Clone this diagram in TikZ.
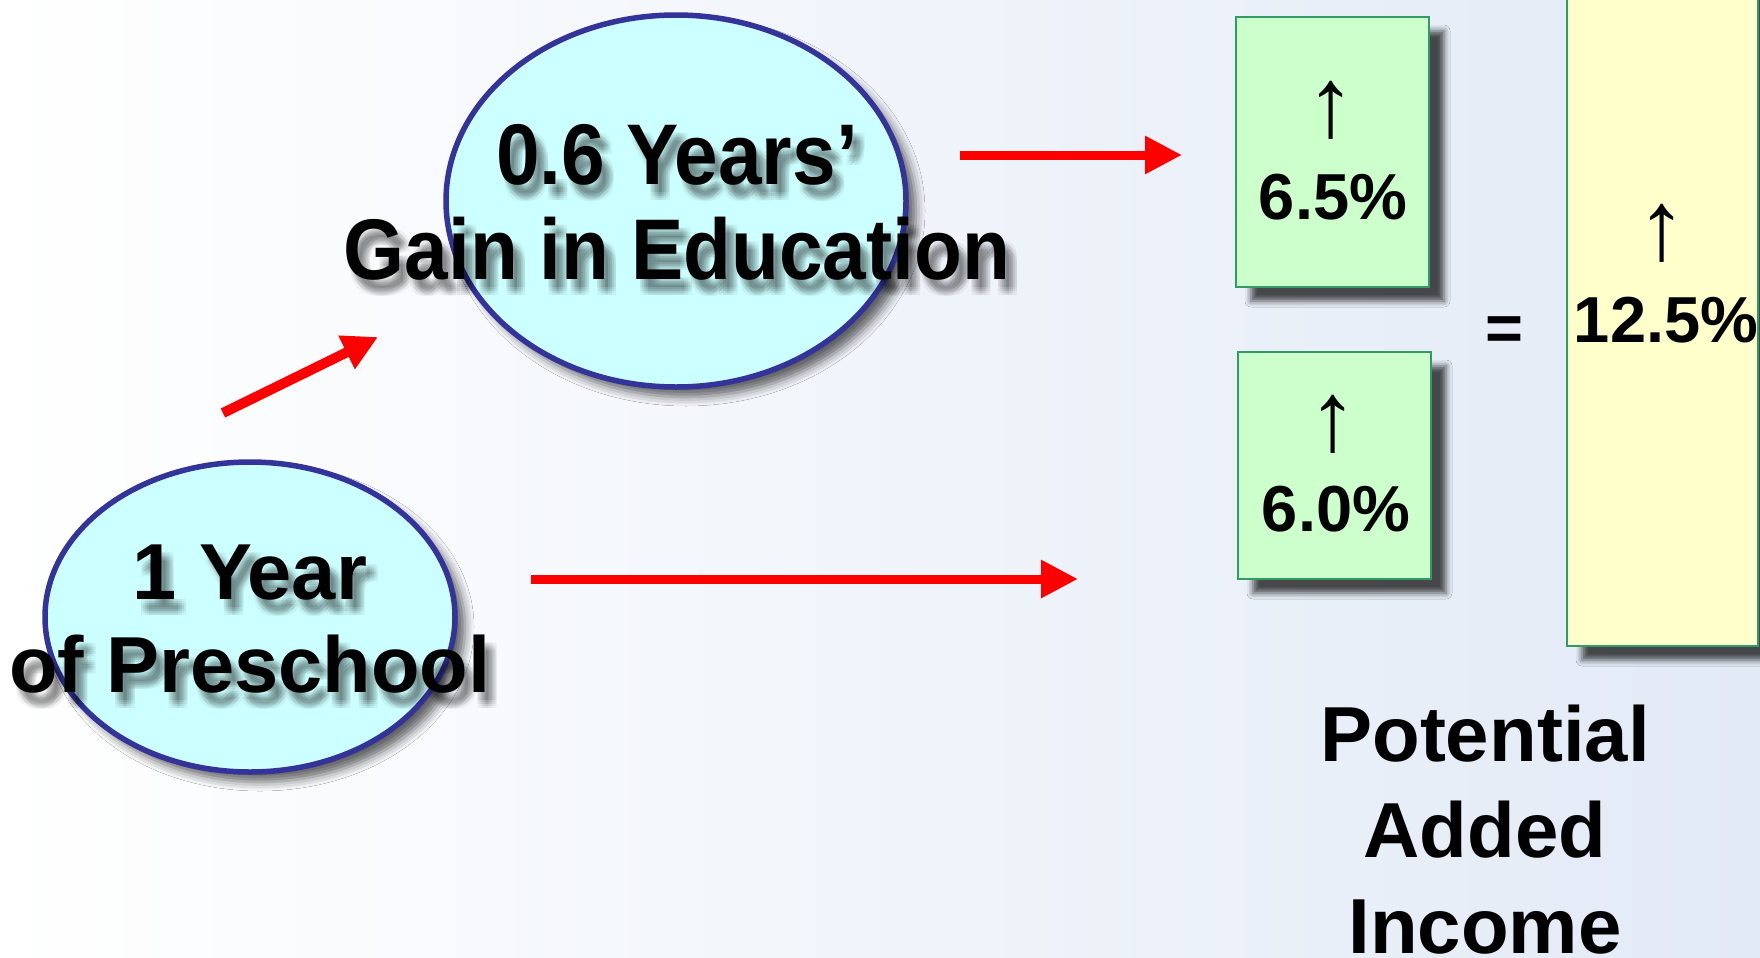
\documentclass[tikz,border=0pt]{standalone}
\usepackage{fontspec}
\setmainfont{Liberation Sans}
\newfontfamily\condfont{Liberation Sans}[FakeStretch=0.91]
\newfontfamily\arrfont{Liberation Sans}
\usetikzlibrary{arrows.meta,shadows.blur,shapes.geometric}
\definecolor{bgblue}{RGB}{226,234,246}
\definecolor{ellfill}{RGB}{204,255,255}
\definecolor{elldraw}{RGB}{51,51,153}
\definecolor{grfill}{RGB}{204,255,204}
\definecolor{grdraw}{RGB}{51,153,102}
\definecolor{yefill}{RGB}{255,255,204}
\definecolor{arred}{RGB}{255,0,0}
\newcommand\txtshadow[3]{%
  \foreach \dx/\dy in {4/8,8/8,12/8,4/12,8/12,12/12,4/16,8/16,12/16,6/10,10/10,6/14,10/14}
    {\node[#1, text=black, opacity=0.045] at ([shift={(\dx,\dy)}]#2) {#3};}
}
\begin{document}
\begin{tikzpicture}[x=0.1mm,y=-0.1mm,
  ellnode/.style={ellipse, draw=elldraw, line width=0.55mm, fill=ellfill, inner sep=0pt,
    blur shadow={shadow xshift=1.0mm, shadow yshift=-1.0mm, shadow blur radius=0.9mm, shadow opacity=60}},
  boxnode/.style={rectangle, draw=grdraw, line width=0.22mm, inner sep=0pt,
    blur shadow={shadow xshift=1.5mm, shadow yshift=-1.4mm, shadow blur radius=0.6mm, shadow opacity=70}},
  bigtxt/.style={inner sep=0pt, align=center, font=\condfont\bfseries\fontsize{24.5}{27.1}\selectfont},
  smalltxt/.style={inner sep=0pt, align=center, font=\bfseries\fontsize{22.6}{26.5}\selectfont},
  pcttxt/.style={inner sep=0pt, anchor=base, font=\bfseries\fontsize{18.5}{22}\selectfont},
  uptxt/.style={inner sep=0pt, font=\arrfont\fontsize{28}{32}\selectfont},
  labtxt/.style={inner sep=0pt, anchor=base, font=\bfseries\fontsize{22.2}{27}\selectfont},
  redarrow/.style={draw=arred, line width=0.9mm, -{Triangle[length=3.7mm,width=3.6mm]}},
  redarrowd/.style={draw=arred, line width=1.0mm, -{Triangle[length=3.5mm,width=3.5mm]}},
]
\useasboundingbox (0,0) rectangle (1760,957);
\clip (0,0) rectangle (1760,957);
\fill[left color=white, right color=bgblue] (0,0) rectangle (1760,957);

% ellipses
\node[ellnode, minimum width=46mm, minimum height=37.2mm] (gainell) at (676,201) {};
\node[ellnode, minimum width=41mm, minimum height=31mm] (preell) at (250,617) {};

% ellipse texts with shadows
\txtshadow{bigtxt}{677,202}{0.6 Years’\\Gain in Education}
\node[bigtxt] (gaintxt) at (677,202) {0.6 Years’\\Gain in Education};
\txtshadow{smalltxt}{250,619}{1 Year\\of Preschool}
\node[smalltxt] (pretxt) at (250,619) {1 Year\\of Preschool};

% boxes
\node[boxnode, fill=grfill, minimum width=19.3mm, minimum height=27mm] (boxa) at (1332.5,152) {};
\node[boxnode, fill=grfill, minimum width=19.3mm, minimum height=22.7mm] (boxb) at (1334.5,465.5) {};
\node[boxnode, fill=yefill, minimum width=19.1mm, minimum height=66.6mm] (boxc) at (1662.5,313) {};

\node[uptxt] (upa) at (1331,110) {↑};
\node[pcttxt] (pcta) at (1333,219) {6.5\%};
\node[uptxt] (upb) at (1333,424) {↑};
\node[pcttxt] (pctb) at (1336,531) {6.0\%};
\node[uptxt] (upc) at (1662,233) {↑};
\node[pcttxt] (pctc) at (1666,342) {12.5\%};

\node[pcttxt] (eq) at (1504,350) {=};

% label
\node[labtxt] (pot1) at (1485,761) {Potential};
\node[labtxt] (pot2) at (1485,857) {Added};
\node[labtxt] (pot3) at (1485,953) {Income};

% arrows
\coordinate (da) at (223,413);
\coordinate (db) at (378,337);
\draw[redarrowd] (da) -- (db);
\coordinate (ua) at (960,155);
\coordinate (ub) at (1182,155);
\draw[redarrow] (ua) -- (ub);
\coordinate (la) at (531,579);
\coordinate (lb) at (1078,579);
\draw[redarrow] (la) -- (lb);
\end{tikzpicture}
\end{document}
